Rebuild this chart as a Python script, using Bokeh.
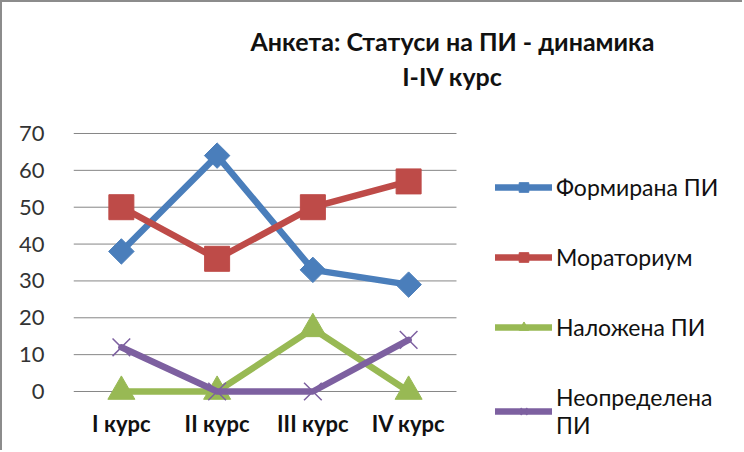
from math import pi
from bokeh.plotting import figure
from bokeh.models import Range1d, Legend, LegendItem, FixedTicker
from bokeh.embed import file_html
from bokeh.resources import INLINE

categories = ["I курс", "II курс", "III курс", "IV курс"]
formirana = [38, 64, 33, 29]
moratorium = [50, 36, 50, 57]
nalozhena = [0, 0, 17, 0]
neopredelena = [12, 0, 0, 14]
series_names = ["Формирана ПИ", "Мораториум", "Наложена ПИ", "Неопределена\nПИ"]
title_lines = ["Анкета: Статуси на ПИ - динамика", "I-IV курс"]
y_ticks = [0, 10, 20, 30, 40, 50, 60, 70]

BLUE = "#4A7EBB"
RED = "#BE4B48"
GREEN = "#98B954"
PURPLE = "#7D60A0"
GRID = "#868686"
FONT = "Lato"

ncat = len(categories)
xpos = [i + 0.5 for i in range(ncat)]          # category centres

p = figure(width=742, height=450,
           x_range=Range1d(0, 7.008), y_range=Range1d(-16.55, 105.54),
           x_axis_location=None,
           output_backend="svg", toolbar_location=None,
           min_border_left=71, min_border_right=0,
           min_border_top=0, min_border_bottom=0)
p.styles = {"border-top": "2px solid #8c8c8c", "border-left": "2px solid #8c8c8c"}
p.outline_line_color = None
p.xgrid.visible = False
p.ygrid.visible = False

p.yaxis.ticker = FixedTicker(ticks=y_ticks)
p.yaxis.axis_line_color = None
p.yaxis.major_tick_line_color = None
p.yaxis.minor_tick_line_color = None
p.yaxis.major_label_standoff = 23
p.yaxis.major_label_text_font = FONT
p.yaxis.major_label_text_font_size = "22px"
p.yaxis.major_label_text_color = "#333333"

# horizontal gridlines over the plot area only
p.segment(x0=[0] * len(y_ticks), x1=[ncat] * len(y_ticks), y0=y_ticks, y1=y_ticks,
          line_color=GRID, line_width=1)

# category labels under the zero line
p.text(x=xpos, y=[-8.8] * ncat, text=categories, text_align="center",
       text_baseline="middle", text_font={"value": FONT}, text_font_style="bold",
       text_font_size="22px", text_color="#111111")

items = []
specs = [
    (formirana, BLUE, dict(marker="square", angle=pi / 4, size=18)),
    (moratorium, RED, dict(marker="square", size=25)),
    (nalozhena, GREEN, dict(marker="triangle", size=27)),
    (neopredelena, PURPLE, dict(marker="x", size=25)),
]
for name, (vals, col, mk) in zip(series_names, specs):
    rl = p.line(xpos, vals, line_color=col, line_width=6.5,
                line_join="round", line_cap="round")
    if mk["marker"] == "x":
        rm = p.scatter(xpos, vals, line_color=col, line_width=1.5, **mk)
    else:
        rm = p.scatter(xpos, vals, fill_color=col, line_color=col, **mk)
    items.append(LegendItem(label=name, renderers=[rl, rm]))

legend = Legend(items=items, location=(422, 13), glyph_width=57, glyph_height=24,
                label_height=24, label_standoff=4, spacing=42, padding=0, margin=0,
                border_line_alpha=0, background_fill_alpha=0,
                label_text_font=FONT, label_text_font_size="23px",
                label_text_line_height=1.3,
                label_text_color="#111111")
p.add_layout(legend)

p.text(x=[3.958, 3.958], y=[95.2, 85.7], text=title_lines, text_align="center",
       text_baseline="middle", text_font={"value": FONT}, text_font_style="bold",
       text_font_size="25px", text_color="#111111")

open("out.html", "w").write(file_html(p, INLINE))
